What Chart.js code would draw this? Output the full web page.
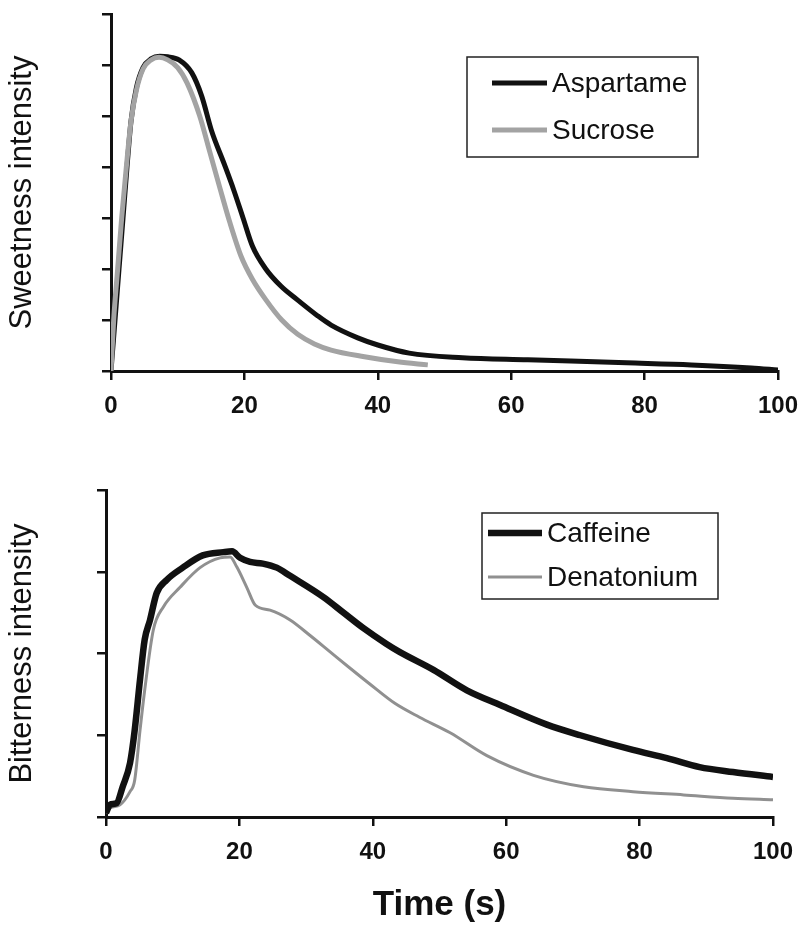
<!DOCTYPE html>
<html>
<head>
<meta charset="utf-8">
<script src="https://cdn.jsdelivr.net/npm/chart.js@4/dist/chart.umd.min.js"></script>
<style>
	html, body { margin: 0; padding: 0; background: #fff; }
	#wrap { position: relative; width: 810px; height: 928px; }
	canvas { position: absolute; left: 0; }
	#top { top: 0; }
	#bottom { top: 430px; }
</style>
</head>
<body>
<div id="wrap">
	<canvas id="top" width="810" height="430"></canvas>
	<canvas id="bottom" width="810" height="498"></canvas>
</div>
<script>
// time (s) and intensity
const aspartameTime = [0, 0.6, 1.2, 1.8, 2.4, 3.0, 3.8, 4.8, 6, 7.3, 8.5, 10.2, 12.1, 13.6, 15.1, 17.0, 18.4, 19.8, 21.2, 23.1, 25.5, 28, 31, 33, 37, 40, 44.7, 52.7, 62.5, 77.3, 87, 96, 100];
const aspartameValue = [0, 1.0, 2.0, 3.0, 4.0, 4.9, 5.55, 5.95, 6.12, 6.17, 6.16, 6.1, 5.85, 5.39, 4.7, 4.05, 3.55, 3.0, 2.45, 2.02, 1.66, 1.39, 1.08, 0.9, 0.65, 0.51, 0.35, 0.26, 0.22, 0.16, 0.12, 0.06, 0.02];

const sucroseTime = [0, 0.4, 1.0, 1.6, 2.3, 3.0, 3.8, 4.8, 6, 7.2, 8.5, 10, 11.4, 13.3, 14.8, 16.3, 17.8, 19.5, 21.2, 23.2, 25.6, 28, 30.5, 33, 38, 43, 47.5];
const sucroseValue = [0, 1.0, 2.0, 3.0, 4.0, 4.9, 5.5, 5.92, 6.1, 6.15, 6.1, 5.95, 5.65, 5.0, 4.3, 3.6, 2.92, 2.25, 1.8, 1.4, 1.0, 0.72, 0.53, 0.41, 0.28, 0.18, 0.12];

const caffeineTime = [0, 0.6, 1.6, 2.5, 3.6, 4.3, 5.1, 5.8, 6.6, 7.6, 9.1, 11.5, 14.5, 17.6, 18.9, 20.1, 21.6, 23.5, 25.6, 27.6, 32.6, 35.6, 38.6, 42, 44, 49.1, 54.1, 59.1, 66.1, 71.1, 79, 84.1, 89, 94, 100];
const caffeineValue = [0.05, 0.15, 0.17, 0.37, 0.66, 1.06, 1.68, 2.17, 2.41, 2.74, 2.9, 3.05, 3.2, 3.24, 3.25, 3.17, 3.12, 3.1, 3.05, 2.95, 2.69, 2.5, 2.31, 2.12, 2.02, 1.8, 1.55, 1.37, 1.13, 1.0, 0.82, 0.72, 0.61, 0.55, 0.49];

const denatoniumTime = [0, 0.6, 2.1, 3.6, 4.3, 5.1, 5.8, 7.1, 8.6, 11.1, 14.1, 17.1, 18.6, 19.6, 21.1, 22.4, 24.6, 27.6, 30.6, 33.6, 36.6, 39.5, 43.3, 47, 51.6, 57.1, 64.1, 71.6, 79, 86.6, 94, 100];
const denatoniumValue = [0.05, 0.11, 0.15, 0.31, 0.45, 1.06, 1.55, 2.29, 2.57, 2.81, 3.05, 3.17, 3.18, 3.06, 2.81, 2.59, 2.53, 2.41, 2.22, 2.02, 1.82, 1.63, 1.39, 1.22, 1.03, 0.75, 0.51, 0.37, 0.31, 0.27, 0.23, 0.21];

const xTicks = [0, 20, 40, 60, 80, 100];

const FONT = '"Liberation Sans", Arial, Helvetica, sans-serif';

function points(xs, ys) {
	return xs.map((x, i) => ({ x: x, y: ys[i] }));
}

// legend drawn inside a framed box, like the original figure
const boxLegend = {
	id: "boxLegend",
	afterDraw(chart, args, opts) {
		const ctx = chart.ctx;
		ctx.save();
		ctx.strokeStyle = "#222";
		ctx.lineWidth = 1.5;
		ctx.strokeRect(opts.left, opts.top, opts.width, opts.height);
		ctx.font = "28px " + FONT;
		ctx.textBaseline = "middle";
		chart.data.datasets.forEach((ds, i) => {
			const y = opts.rows[i];
			ctx.strokeStyle = ds.borderColor;
			ctx.lineWidth = ds.borderWidth;
			ctx.beginPath();
			ctx.moveTo(opts.lineStart, y);
			ctx.lineTo(opts.lineEnd, y);
			ctx.stroke();
			ctx.fillStyle = "#111";
			ctx.fillText(ds.label, opts.lineEnd + 5, y + 1);
		});
		ctx.restore();
	},
};

function makeChart(id, datasets, cfg) {
	return new Chart(document.getElementById(id), {
		type: "line",
		data: { datasets: datasets },
		options: {
			responsive: false,
			animation: false,
			layout: { padding: { top: cfg.padTop, right: cfg.padRight, left: 0, bottom: 0 } },
			elements: { point: { radius: 0 }, line: { tension: 0.4, cubicInterpolationMode: "monotone" } },
			scales: {
				x: {
					type: "linear",
					min: 0,
					max: 100,
					afterBuildTicks: (scale) => {
						scale.ticks = xTicks.map((v) => ({ value: v }));
					},
					afterFit: (scale) => {
						scale.height = cfg.xHeight;
					},
					border: { display: true, color: "#111", width: 3 },
					grid: { drawOnChartArea: false, drawTicks: true, tickLength: 9, color: "#111", lineWidth: 2.5 },
					ticks: {
						color: "#111",
						padding: 12,
						maxRotation: 0,
						font: { family: FONT, size: 24, weight: "bold" },
					},
					title: {
						display: !!cfg.xTitle,
						text: cfg.xTitle || "",
						color: "#111",
						font: { family: FONT, size: 35, weight: "bold", lineHeight: 1.2 },
						padding: { top: 0, bottom: 2 },
					},
				},
				y: {
					min: 0,
					max: cfg.yMax,
					afterFit: (scale) => {
						scale.width = cfg.yWidth;
					},
					border: { display: true, color: "#111", width: 3 },
					grid: { drawOnChartArea: false, drawTicks: true, tickLength: 9, color: "#111", lineWidth: 2.5 },
					ticks: { display: false, stepSize: 1 },
					title: {
						display: true,
						text: cfg.yTitle,
						color: "#111",
						font: { family: FONT, size: 31, lineHeight: 1.2 },
						padding: { top: 4, bottom: 0 },
					},
				},
			},
			plugins: {
				legend: { display: false },
				tooltip: { enabled: false },
				boxLegend: cfg.legend,
			},
		},
		plugins: [boxLegend],
	});
}

makeChart(
	"top",
	[
		{ label: "Aspartame", data: points(aspartameTime, aspartameValue), borderColor: "#111", borderWidth: 5, order: 2 },
		{ label: "Sucrose", data: points(sucroseTime, sucroseValue), borderColor: "#a3a3a3", borderWidth: 5, order: 1 },
	],
	{
		padTop: 14,
		padRight: 24,
		xHeight: 59,
		yWidth: 111,
		yMax: 7,
		yTitle: "Sweetness intensity",
		legend: { left: 467, top: 57, width: 231, height: 100, rows: [83, 130], lineStart: 492, lineEnd: 547 },
	}
);

makeChart(
	"bottom",
	[
		{ label: "Caffeine", data: points(caffeineTime, caffeineValue), borderColor: "#111", borderWidth: 6.5 },
		{ label: "Denatonium", data: points(denatoniumTime, denatoniumValue), borderColor: "#909090", borderWidth: 3 },
	],
	{
		padTop: 60,
		padRight: 37,
		xHeight: 111,
		yWidth: 106,
		yMax: 4,
		yTitle: "Bitterness intensity",
		xTitle: "Time (s)",
		legend: { left: 482, top: 83, width: 236, height: 86, rows: [103, 147], lineStart: 488, lineEnd: 542 },
	}
);
</script>
</body>
</html>
